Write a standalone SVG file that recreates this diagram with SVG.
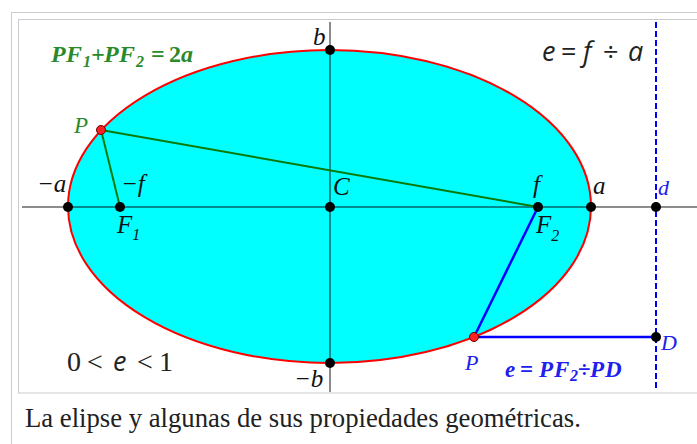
<svg xmlns="http://www.w3.org/2000/svg" width="697" height="444" viewBox="0 0 697 444">
<style>
.frame{fill:#fff;stroke:#c8ccd1;stroke-width:1}
.axis{stroke:#000;stroke-opacity:0.45;stroke-width:2;fill:none}
.pt{fill:#000}
.ppt{fill:#ff2020;stroke:#600;stroke-width:1}
.lbl{font-family:"Liberation Serif",serif;font-style:italic;font-size:25px;fill:#111}
.blbl{font-family:"Liberation Serif",serif;font-style:italic;font-size:22px;fill:#2020ee}
.glbl{font-family:"Liberation Serif",serif;font-style:italic;font-size:23px;fill:#2a8a2a}
.gform{font-family:"Liberation Serif",serif;font-style:italic;font-weight:bold;font-size:24px;fill:#2a8a2a}
.bform{font-family:"Liberation Serif",serif;font-style:italic;font-weight:bold;font-size:23px;fill:#2020ee}
.sub{font-size:16px}
.up{font-style:normal}
.sans{font-family:"Open Sans","Noto Sans",sans-serif;font-size:27px;fill:#222}
.num{font-family:"Liberation Serif",serif;font-style:normal;font-size:28px}
.it{font-style:italic}
.green{stroke:#0a7a0a;stroke-width:2;fill:none}
.blue{stroke:#0000ff;stroke-width:2.5;fill:none}
</style>
<rect class="frame" x="11.5" y="12.5" width="700" height="450"/>
<rect class="frame" x="18.5" y="19.5" width="690" height="373.5" stroke="#d0d0d0"/>
<g id="ellipse">
<ellipse cx="329.5" cy="206.5" rx="261.5" ry="156.5" fill="#00ffff" stroke="#ff0000" stroke-width="2"/>
</g>
<g id="connectors">
<line class="axis" x1="22" y1="207" x2="697" y2="207"/>
<line class="axis" x1="330" y1="22" x2="330" y2="392"/>
<line x1="656" y1="22" x2="656" y2="390" stroke="#0000ff" stroke-width="2" stroke-dasharray="6,3"/>
<line class="green" x1="101" y1="130" x2="120" y2="207"/>
<line class="green" x1="101" y1="130" x2="538" y2="207"/>
<line class="blue" x1="538" y1="207" x2="474" y2="337"/>
<line class="blue" x1="474" y1="337" x2="656" y2="337"/>
</g>
<g id="node-neg-a"><circle class="pt" cx="68" cy="207" r="5"/><text class="lbl" x="37" y="192">−a</text></g>
<g id="node-F1"><circle class="pt" cx="120" cy="207" r="5"/><text class="lbl" x="121" y="192">−f</text><text class="lbl" x="117" y="233">F<tspan class="sub" dy="7">1</tspan></text></g>
<g id="node-C"><circle class="pt" cx="330" cy="207" r="5"/><text class="lbl" x="333" y="195">C</text></g>
<g id="node-F2"><circle class="pt" cx="538" cy="207" r="5"/><text class="lbl" x="533" y="193">f</text><text class="lbl" x="536" y="233">F<tspan class="sub" dy="8">2</tspan></text></g>
<g id="node-a"><circle class="pt" cx="591" cy="207" r="5"/><text class="lbl" x="593" y="194">a</text></g>
<g id="node-d"><circle class="pt" cx="656" cy="207" r="5"/><text class="blbl" x="658" y="195">d</text></g>
<g id="node-b"><circle class="pt" cx="330" cy="50" r="5"/><text class="lbl" x="313" y="45">b</text></g>
<g id="node-neg-b"><circle class="pt" cx="330" cy="363" r="5"/><text class="lbl" x="294" y="387">−b</text></g>
<g id="node-P1"><circle class="ppt" cx="101" cy="130" r="4.5"/><text class="glbl" x="74" y="133">P</text></g>
<g id="node-P2"><circle class="ppt" cx="474" cy="337" r="4.5"/><text class="blbl" x="465" y="370">P</text></g>
<g id="node-D"><circle class="pt" cx="656" cy="337" r="5"/><text class="blbl" x="661" y="350">D</text></g>
<g id="formula-sum"><text class="gform" y="62"><tspan x="51">P</tspan><tspan x="66">F</tspan><tspan class="sub" x="83" dy="5">1</tspan><tspan x="91" dy="-5">+</tspan><tspan x="104">P</tspan><tspan x="119">F</tspan><tspan class="sub" x="136" dy="5">2</tspan><tspan class="up" x="151" dy="-5">=</tspan><tspan class="up" x="169">2</tspan><tspan x="181">a</tspan></text></g>
<g id="formula-e"><text class="sans" y="61"><tspan class="it" x="542">e</tspan><tspan x="561">=</tspan><tspan class="it" x="583">f</tspan><tspan x="603">÷</tspan><tspan class="it" x="628">a</tspan></text></g>
<g id="formula-range"><text class="sans" y="371"><tspan class="num" x="67">0</tspan><tspan class="num" x="87">&lt;</tspan><tspan class="it" x="113">e</tspan><tspan class="num" x="137">&lt;</tspan><tspan class="num" x="159">1</tspan></text></g>
<g id="formula-ratio"><text class="bform" y="377"><tspan x="505">e</tspan><tspan class="up" x="520">=</tspan><tspan x="539">P</tspan><tspan x="554">F</tspan><tspan class="sub" x="570" dy="4">2</tspan><tspan class="up" x="578" dy="-4">÷</tspan><tspan x="590">P</tspan><tspan x="605">D</tspan></text></g>
<text x="25" y="427" font-family="Liberation Serif,serif" font-size="26.7" fill="#202122">La elipse y algunas de sus propiedades geométricas.</text>
</svg>
